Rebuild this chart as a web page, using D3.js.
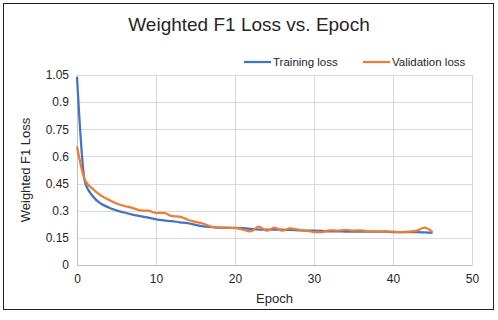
<!DOCTYPE html>
<html>
<head>
<meta charset="utf-8">
<script src="https://cdn.jsdelivr.net/npm/d3@7"></script>
<style>
  body { margin: 0; background: #fff; }
  text { font-family: "Liberation Sans", Arial, sans-serif; fill: #262626; }
</style>
</head>
<body>
<div id="chart"></div>
<script>
var svgWidth = 498;
var svgHeight = 320;

// data
var epochs = d3.range(0, 46);
var trainingLoss = [1.04, 0.46, 0.38, 0.34, 0.318, 0.302, 0.29, 0.278, 0.27, 0.262,
    0.252, 0.246, 0.242, 0.236, 0.232, 0.222, 0.214, 0.21, 0.206, 0.205,
    0.205, 0.204, 0.2, 0.196, 0.196, 0.196, 0.195, 0.194, 0.192, 0.19,
    0.19, 0.188, 0.186, 0.186, 0.185, 0.185, 0.185, 0.185, 0.185, 0.184,
    0.182, 0.182, 0.182, 0.182, 0.18, 0.178];
var validationLoss = [0.655, 0.47, 0.42, 0.385, 0.36, 0.34, 0.326, 0.316, 0.302, 0.3,
    0.288, 0.288, 0.27, 0.268, 0.25, 0.238, 0.228, 0.212, 0.206, 0.206,
    0.204, 0.196, 0.186, 0.212, 0.19, 0.206, 0.19, 0.202, 0.195, 0.19,
    0.182, 0.182, 0.192, 0.19, 0.194, 0.19, 0.192, 0.186, 0.186, 0.186,
    0.184, 0.182, 0.184, 0.19, 0.206, 0.182];
var yTicks = [0, 0.15, 0.3, 0.45, 0.6, 0.75, 0.9, 1.05];
var xTicks = [0, 10, 20, 30, 40, 50];

var margin = { top: 75, right: 26, bottom: 55, left: 77 };
var width = 472 - margin.left;
var height = 265 - margin.top;

var svg = d3.select("#chart")
    .append("svg")
    .attr("width", svgWidth)
    .attr("height", svgHeight);

svg.append("rect")
    .attr("x", 3.5).attr("y", 3.5)
    .attr("width", 490).attr("height", 306)
    .attr("fill", "#fff")
    .attr("stroke", "#222")
    .attr("stroke-width", 1);

var chartGroup = svg.append("g")
    .attr("transform", `translate(${margin.left}, ${margin.top})`);

var x = d3.scaleLinear().domain([0, 50]).range([0, width]);
var y = d3.scaleLinear().domain([0, 1.05]).range([height, 0]);

// gridlines
chartGroup.append("g")
    .selectAll("line")
    .data(yTicks)
    .enter()
    .append("line")
    .attr("x1", 0).attr("x2", width)
    .attr("y1", d => Math.round(y(d)) + 0.5)
    .attr("y2", d => Math.round(y(d)) + 0.5)
    .attr("stroke", "#d9d9d9");

chartGroup.append("g")
    .selectAll("line")
    .data(xTicks)
    .enter()
    .append("line")
    .attr("y1", 0).attr("y2", height)
    .attr("x1", d => Math.round(x(d)) + 0.5)
    .attr("x2", d => Math.round(x(d)) + 0.5)
    .attr("stroke", "#d9d9d9");

// axes
var bottomAxis = d3.axisBottom(x).tickValues(xTicks).tickSize(0).tickPadding(9);
var leftAxis = d3.axisLeft(y).tickValues(yTicks).tickSize(0).tickPadding(8)
    .tickFormat(d => d3.format("")(+d.toFixed(2)));

var xAxis = chartGroup.append("g")
    .attr("transform", `translate(0, ${height})`)
    .call(bottomAxis);
var yAxis = chartGroup.append("g").call(leftAxis);

[xAxis, yAxis].forEach(function (a) {
    a.select(".domain").attr("stroke", "#bfbfbf");
    a.selectAll("text").attr("font-size", "12px").attr("fill", "#262626")
        .style("font-family", "'Liberation Sans', Arial, sans-serif");
});

// lines
var trainLine = d3.line()
    .x((d, i) => x(epochs[i]))
    .y(d => y(d))
    .curve(d3.curveMonotoneX);

chartGroup.append("path")
    .datum(trainingLoss)
    .attr("d", trainLine)
    .attr("fill", "none")
    .attr("stroke", "#4472c4")
    .attr("stroke-width", 2.25)
    .attr("stroke-linejoin", "round");

chartGroup.append("path")
    .datum(validationLoss)
    .attr("d", trainLine)
    .attr("fill", "none")
    .attr("stroke", "#ed7d31")
    .attr("stroke-width", 2.25)
    .attr("stroke-linejoin", "round");

// title and labels
svg.append("text")
    .attr("x", 249).attr("y", 31)
    .attr("text-anchor", "middle")
    .attr("font-size", "19px")
    .text("Weighted F1 Loss vs. Epoch");

svg.append("text")
    .attr("x", margin.left + width / 2).attr("y", 303)
    .attr("text-anchor", "middle")
    .attr("font-size", "13px")
    .text("Epoch");

svg.append("text")
    .attr("transform", "rotate(-90)")
    .attr("x", -(margin.top + height / 2)).attr("y", 30)
    .attr("text-anchor", "middle")
    .attr("font-size", "13px")
    .text("Weighted F1 Loss");

// legend
var legend = [
    { name: "Training loss", color: "#4472c4", x: 244 },
    { name: "Validation loss", color: "#ed7d31", x: 363 }
];
var legendGroup = svg.append("g");
legend.forEach(function (l) {
    legendGroup.append("line")
        .attr("x1", l.x).attr("x2", l.x + 27)
        .attr("y1", 62).attr("y2", 62)
        .attr("stroke", l.color)
        .attr("stroke-width", 2.25);
    legendGroup.append("text")
        .attr("x", l.x + 29).attr("y", 66)
        .attr("font-size", "11.5px")
        .text(l.name);
});
</script>
</body>
</html>
